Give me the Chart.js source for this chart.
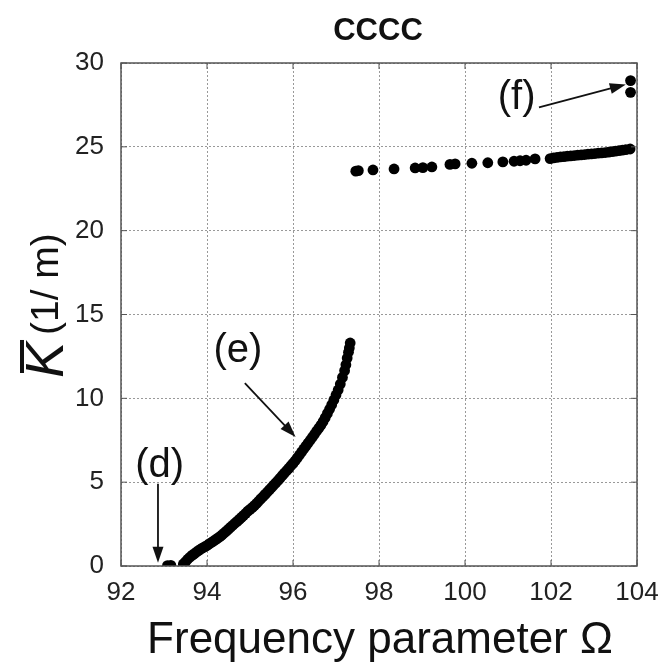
<!DOCTYPE html>
<html>
<head>
<meta charset="utf-8">
<script src="https://cdn.jsdelivr.net/npm/chart.js@4.4.1/dist/chart.umd.min.js"></script>
<style>
  html, body { margin: 0; padding: 0; background: #fff; }
  #wrap { width: 665px; height: 670px; }
</style>
</head>
<body>
<div id="wrap"><canvas id="chart" width="665" height="670"></canvas></div>
<script>
// Axis ticks
const xTicks = [92, 94, 96, 98, 100, 102, 104];
const yTicks = [0, 5, 10, 15, 20, 25, 30];

// (d) onset points
const pointsD = [[93.08, 0.02], [93.16, 0.04]];

// (e) lower branch
const branchE = [
  [93.45, 0.12], [93.5, 0.25], [93.55, 0.4], [93.6, 0.52], [93.65, 0.63], [93.7, 0.72],
  [93.75, 0.82], [93.8, 0.92], [93.85, 1.0], [93.9, 1.08], [93.95, 1.15], [94.0, 1.22],
  [94.05, 1.32], [94.1, 1.4], [94.15, 1.48], [94.2, 1.57], [94.25, 1.66], [94.3, 1.75],
  [94.35, 1.86], [94.4, 1.97], [94.45, 2.08], [94.5, 2.2], [94.55, 2.32], [94.6, 2.43],
  [94.65, 2.55], [94.7, 2.66], [94.75, 2.78], [94.8, 2.9], [94.85, 3.02], [94.9, 3.14],
  [94.95, 3.27], [95.0, 3.38], [95.05, 3.48], [95.1, 3.6], [95.15, 3.73], [95.2, 3.86],
  [95.25, 4.0], [95.3, 4.13], [95.35, 4.27], [95.4, 4.4], [95.45, 4.54], [95.5, 4.68],
  [95.55, 4.82], [95.6, 4.96], [95.65, 5.1], [95.7, 5.24], [95.75, 5.4], [95.8, 5.54],
  [95.85, 5.68], [95.9, 5.82], [95.95, 5.98], [96.0, 6.12], [96.05, 6.28], [96.1, 6.45],
  [96.15, 6.62], [96.2, 6.8], [96.25, 6.98], [96.3, 7.15], [96.35, 7.33], [96.4, 7.5],
  [96.45, 7.68], [96.5, 7.86], [96.55, 8.05], [96.6, 8.22], [96.65, 8.4], [96.7, 8.62],
  [96.75, 8.85], [96.8, 9.1], [96.85, 9.35], [96.9, 9.62], [96.95, 9.9], [97.0, 10.2],
  [97.05, 10.5], [97.1, 10.85], [97.15, 11.25], [97.2, 11.65], [97.23, 12.0], [97.26, 12.4],
  [97.29, 12.75], [97.31, 13.0], [97.33, 13.3]
];

// upper branch
const branchUpper = [
  [97.46, 23.55], [97.52, 23.58], [97.86, 23.62], [98.35, 23.68], [98.84, 23.74], [99.02, 23.76],
  [99.23, 23.8], [99.65, 23.95], [99.77, 23.98], [100.16, 24.02], [100.53, 24.05], [100.88, 24.1],
  [101.14, 24.14], [101.28, 24.17], [101.42, 24.2], [101.63, 24.28], [101.98, 24.3], [102.06, 24.34],
  [102.14, 24.37], [102.22, 24.4], [102.3, 24.42], [102.38, 24.44], [102.46, 24.46], [102.54, 24.48],
  [102.62, 24.5], [102.7, 24.52], [102.78, 24.54], [102.86, 24.56], [102.94, 24.58], [103.02, 24.6],
  [103.1, 24.62], [103.18, 24.64], [103.26, 24.66], [103.34, 24.68], [103.42, 24.71], [103.5, 24.74],
  [103.58, 24.77], [103.66, 24.8], [103.74, 24.83], [103.84, 24.87]
];

// (f) points
const pointsF = [[103.85, 28.95], [103.85, 28.25]];

// annotations: label, label position, arrow start, arrow end (data coords)
const notes = [
  { text: '(f)', at: [101.2, 27.9], from: [101.72, 27.35], to: [103.74, 28.72] },
  { text: '(e)', at: [94.72, 12.8], from: [94.88, 10.9], to: [96.06, 7.7] },
  { text: '(d)', at: [92.9, 5.95], from: [92.86, 4.9], to: [92.86, 0.2] }
];

const toXY = arr => arr.map(p => ({ x: p[0], y: p[1] }));
const FONT = '"Liberation Sans", Arial, sans-serif';

function arrow(ctx, x1, y1, x2, y2) {
  const a = Math.atan2(y2 - y1, x2 - x1);
  const hl = 16, hw = 5.5;
  ctx.beginPath();
  ctx.moveTo(x1, y1);
  ctx.lineTo(x2 - Math.cos(a) * hl * 0.8, y2 - Math.sin(a) * hl * 0.8);
  ctx.stroke();
  ctx.beginPath();
  ctx.moveTo(x2, y2);
  ctx.lineTo(x2 - Math.cos(a) * hl - Math.sin(a) * hw, y2 - Math.sin(a) * hl + Math.cos(a) * hw);
  ctx.lineTo(x2 - Math.cos(a) * hl + Math.sin(a) * hw, y2 - Math.sin(a) * hl - Math.cos(a) * hw);
  ctx.closePath();
  ctx.fill();
}

const decor = {
  id: 'decor',
  afterDraw(chart) {
    const ctx = chart.ctx;
    const a = chart.chartArea;
    const xs = chart.scales.x, ys = chart.scales.y;
    ctx.save();

    // frame + inward ticks
    ctx.strokeStyle = '#555';
    ctx.lineWidth = 1.5;
    ctx.strokeRect(a.left, a.top, a.right - a.left, a.bottom - a.top);
    ctx.lineWidth = 1;
    xTicks.forEach(v => {
      const px = xs.getPixelForValue(v);
      ctx.beginPath(); ctx.moveTo(px, a.bottom); ctx.lineTo(px, a.bottom - 6); ctx.stroke();
      ctx.beginPath(); ctx.moveTo(px, a.top); ctx.lineTo(px, a.top + 6); ctx.stroke();
    });
    yTicks.forEach(v => {
      const py = ys.getPixelForValue(v);
      ctx.beginPath(); ctx.moveTo(a.left, py); ctx.lineTo(a.left + 6, py); ctx.stroke();
      ctx.beginPath(); ctx.moveTo(a.right, py); ctx.lineTo(a.right - 6, py); ctx.stroke();
    });

    // title
    ctx.fillStyle = '#111';
    ctx.font = 'bold 31px ' + FONT;
    ctx.textAlign = 'center';
    ctx.textBaseline = 'middle';
    ctx.fillText('CCCC', 378, 31);

    // x axis title
    ctx.font = '44px ' + FONT;
    ctx.fillText('Frequency parameter \u03A9', 380, 641);

    // y axis title (rotated)
    ctx.save();
    ctx.translate(63, 378);
    ctx.rotate(-Math.PI / 2);
    ctx.textAlign = 'left';
    ctx.textBaseline = 'alphabetic';
    ctx.font = 'italic 54px ' + FONT;
    ctx.fillText('K', 0, 0);
    const kw = ctx.measureText('K').width;
    ctx.fillRect(5, -43, kw - 3, 4);
    ctx.font = '39px ' + FONT;
    ctx.fillText('(1/ m)', kw + 7, -5);
    ctx.restore();

    // annotations
    ctx.font = '40px ' + FONT;
    ctx.textAlign = 'center';
    ctx.textBaseline = 'middle';
    ctx.lineWidth = 1.8;
    ctx.strokeStyle = '#111';
    notes.forEach(n => {
      ctx.fillText(n.text, xs.getPixelForValue(n.at[0]), ys.getPixelForValue(n.at[1]));
      arrow(ctx, xs.getPixelForValue(n.from[0]), ys.getPixelForValue(n.from[1]),
        xs.getPixelForValue(n.to[0]), ys.getPixelForValue(n.to[1]));
    });
    ctx.restore();
  }
};

const dotStyle = {
  showLine: false,
  pointRadius: 5.4,
  pointBackgroundColor: '#000',
  pointBorderColor: '#000',
  pointBorderWidth: 0,
  pointHoverRadius: 5.4
};

new Chart(document.getElementById('chart').getContext('2d'), {
  type: 'scatter',
  data: {
    datasets: [
      Object.assign({ label: 'd', data: toXY(pointsD) }, dotStyle),
      Object.assign({ label: 'e', data: toXY(branchE) }, dotStyle),
      Object.assign({ label: 'upper', data: toXY(branchUpper) }, dotStyle),
      Object.assign({ label: 'f', data: toXY(pointsF) }, dotStyle)
    ]
  },
  options: {
    responsive: false,
    animation: false,
    layout: { padding: { left: 0, top: 63, right: 0, bottom: 0 } },
    plugins: { legend: { display: false }, tooltip: { enabled: false }, title: { display: false } },
    scales: {
      x: {
        type: 'linear', min: 92, max: 104,
        afterBuildTicks: s => { s.ticks = xTicks.map(v => ({ value: v })); },
        afterFit: s => { s.height = 104; s.paddingRight = 28; s.paddingLeft = 0; },
        ticks: { color: '#222', padding: 11, font: { size: 26, family: FONT } },
        grid: { color: '#999', lineWidth: 1, drawTicks: false },
        border: { display: false, dash: [2, 2] }
      },
      y: {
        type: 'linear', min: 0, max: 30,
        afterBuildTicks: s => { s.ticks = yTicks.map(v => ({ value: v })); },
        afterFit: s => { s.width = 121; s.paddingTop = 0; s.paddingBottom = 0; },
        ticks: { color: '#222', padding: 17, font: { size: 26, family: FONT } },
        grid: { color: '#999', lineWidth: 1, drawTicks: false },
        border: { display: false, dash: [2, 2] }
      }
    }
  },
  plugins: [decor]
});
</script>
</body>
</html>
